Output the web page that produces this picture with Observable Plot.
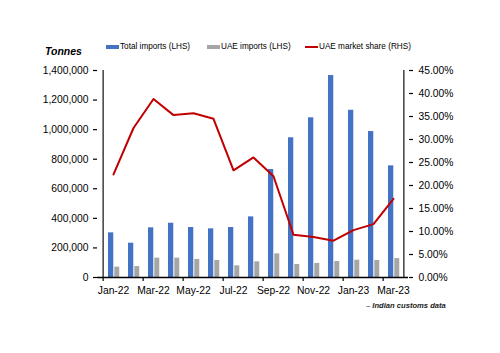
<!DOCTYPE html>
<html><head><meta charset="utf-8">
<script src="https://cdn.jsdelivr.net/npm/d3@7"></script>
<script src="https://cdn.jsdelivr.net/npm/@observablehq/plot@0.6"></script>
<style>
body{margin:0;background:#fff;}
#wrap{position:relative;width:500px;height:353px;font-family:"Liberation Sans",Arial,sans-serif;color:#000;}
.ov{position:absolute;white-space:nowrap;}
.leg{position:absolute;font-size:8.2px;line-height:10px;top:42px;display:flex;align-items:center;}
.sw{display:inline-block;width:13px;height:4px;margin-right:1px;}
</style></head><body>
<div id="wrap">
  <div class="ov" style="left:45px;top:45px;font-size:10.5px;font-weight:bold;font-style:italic;">Tonnes</div>
  <div class="leg" style="left:106px;"><span class="sw" style="background:#4472C4"></span>Total imports (LHS)</div>
  <div class="leg" style="left:207px;"><span class="sw" style="background:#A6A6A6"></span>UAE imports (LHS)</div>
  <div class="leg" style="left:305px;"><span class="sw" style="background:#C00000;height:2px"></span>UAE market share (RHS)</div>
  <div class="ov" style="left:366px;top:301px;font-size:7.6px;font-weight:bold;font-style:italic;color:#222;">– Indian customs data</div>
</div>
<script>
const months = ["Jan-22","Feb-22","Mar-22","Apr-22","May-22","Jun-22","Jul-22","Aug-22","Sep-22","Oct-22","Nov-22","Dec-22","Jan-23","Feb-23","Mar-23"];
const totalImports = [302000,232000,336000,367000,338000,329000,338000,410000,730000,945000,1080000,1366000,1131000,987000,755000];
const uaeImports = [70000,74000,131000,131000,122000,115000,79000,106000,160000,88000,95000,108000,117000,115000,128000];
const uaeShare = [22.4,32.5,38.8,35.3,35.7,34.5,23.3,26.1,22.0,9.3,8.8,8.0,10.3,11.6,17.1];
const leftTicks = [0,200000,400000,600000,800000,1000000,1200000,1400000];
const rightTicks = [0,5,10,15,20,25,30,35,40,45];
const labelMonths = ["Jan-22","Mar-22","May-22","Jul-22","Sep-22","Nov-22","Jan-23","Mar-23"];

const yMax = 1400000, pMax = 45, k = yMax / pMax;
const data = months.map((m, i) => ({month: m, total: totalImports[i], uae: uaeImports[i], share: uaeShare[i]}));
const W = 500, ML = 97, MR = 92;
const bw = (W - ML - MR) / months.length;

const chart = Plot.plot({
  width: W, height: 353,
  marginLeft: ML, marginRight: MR, marginTop: 70, marginBottom: 76,
  x: {type: "band", domain: months, padding: 0},
  y: {domain: [0, yMax]},
  style: {fontFamily: "'Liberation Sans', Arial, sans-serif", fontSize: "10.3px", color: "#000", background: "transparent"},
  marks: [
    Plot.barY(data, {x: "month", y: "total", fill: "#4472C4", insetLeft: 5, insetRight: bw - 11}),
    Plot.barY(data, {x: "month", y: "uae", fill: "#A6A6A6", insetLeft: 11.3, insetRight: bw - 17}),
    Plot.lineY(data, {x: "month", y: d => d.share * k, stroke: "#C00000", strokeWidth: 2}),
    Plot.ruleY([0], {stroke: "#000", strokeWidth: 1.3}),
    Plot.ruleX([months[0]], {y1: 0, y2: yMax, dx: -bw / 2, stroke: "#222", strokeWidth: 1.3}),
    Plot.ruleX([months[months.length - 1]], {y1: 0, y2: yMax, dx: bw / 2, stroke: "#222", strokeWidth: 1.3}),
    Plot.axisY({anchor: "left", ticks: leftTicks, tickFormat: d3.format(","), tickSize: 4, tickPadding: 5, strokeWidth: 1.2, label: null}),
    Plot.axisY({anchor: "right", ticks: rightTicks.map(p => p * k), tickFormat: d => (d / k).toFixed(2) + "%", tickSize: 4, tickPadding: 6, strokeWidth: 1.2, label: null}),
    Plot.axisX({ticks: labelMonths, tickSize: 0, tickPadding: 9, label: null}),
    Plot.axisX({ticks: labelMonths, tickSize: 4, tickFormat: () => "", dx: -bw / 2, strokeWidth: 1.2, label: null})
  ]
});
chart.style.position = "absolute";
chart.style.left = "0px";
chart.style.top = "0px";
document.getElementById("wrap").prepend(chart);
</script>
</body></html>
